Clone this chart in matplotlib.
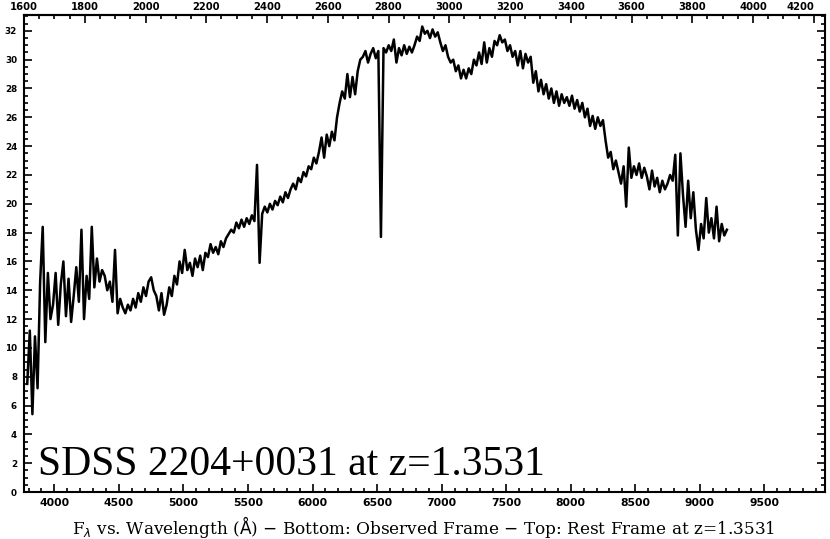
#!/usr/bin/env python3
"""SDSS 2204+0031 spectrum, observed frame bottom / rest frame top."""

import matplotlib
matplotlib.use("Agg")
import matplotlib.pyplot as plt
import numpy as np
from matplotlib.ticker import MultipleLocator

z = 1.3531

# spectrum sampled every 20 A starting at 3790 A (observed frame)
wave_start = 3790
wave_step = 20
flux = [
    7.5, 11.2, 5.4, 10.8, 7.2, 14.6, 18.4, 10.4, 15.2, 12.0,
    13.0, 15.2, 11.6, 14.4, 16.0, 12.2, 14.8, 11.8, 13.6, 15.6,
    13.2, 18.2, 12.0, 15.0, 13.4, 18.4, 14.2, 16.2, 14.6, 15.4,
    15.0, 14.0, 14.6, 13.2, 16.8, 12.4, 13.4, 12.8, 12.4, 13.0,
    12.6, 13.4, 12.8, 13.8, 13.2, 14.2, 13.6, 14.6, 14.9, 14.0,
    13.6, 12.6, 13.8, 12.3, 13.0, 14.2, 13.6, 15.0, 14.4, 16.0,
    15.2, 16.8, 15.4, 15.9, 15.0, 16.2, 15.6, 16.4, 15.4, 16.6,
    16.3, 17.2, 16.6, 17.0, 16.5, 17.4, 17.0, 17.6, 17.9, 18.2,
    18.0, 18.7, 18.3, 18.9, 18.4, 19.0, 18.6, 19.2, 18.8, 22.7,
    15.9, 19.3, 19.8, 19.4, 20.0, 19.6, 20.2, 19.9, 20.5, 20.1,
    20.8, 20.4, 21.0, 21.4, 21.0, 21.8, 21.5, 22.2, 21.9, 22.6,
    22.4, 23.2, 22.8, 23.6, 24.6, 23.2, 24.8, 24.0, 25.0, 24.4,
    26.0, 27.0, 27.8, 27.3, 29.0, 27.4, 28.8, 27.6, 29.2, 30.0,
    30.2, 30.6, 29.8, 30.4, 30.8, 30.1, 30.6, 17.7, 30.8, 30.5,
    31.0, 30.6, 31.4, 29.8, 30.8, 30.3, 31.0, 30.4, 30.9, 30.5,
    31.0, 31.6, 31.3, 32.3, 31.8, 32.0, 31.5, 32.1, 31.6, 31.9,
    31.2, 30.6, 31.0, 30.2, 29.8, 30.0, 29.2, 29.6, 28.7, 29.3,
    28.7, 29.4, 29.0, 30.0, 29.6, 30.5, 29.7, 31.2, 29.8, 30.8,
    30.2, 31.3, 31.0, 31.7, 31.2, 31.4, 30.6, 31.0, 30.2, 30.6,
    29.6, 30.6, 29.4, 30.4, 29.8, 30.2, 28.4, 29.2, 27.8, 28.6,
    27.6, 28.3, 27.3, 28.0, 27.0, 27.8, 26.8, 27.6, 27.0, 27.4,
    26.8, 27.5, 26.6, 27.2, 26.4, 27.0, 26.0, 26.6, 25.4, 26.1,
    25.2, 26.0, 25.4, 25.8, 24.4, 23.2, 23.6, 22.4, 23.0, 22.2,
    21.4, 22.6, 19.8, 23.9, 21.8, 22.6, 22.0, 22.8, 21.8, 22.5,
    21.9, 21.0, 22.3, 21.2, 21.8, 20.8, 21.6, 21.0, 21.4, 22.0,
    21.6, 23.4, 17.8, 23.5, 20.6, 18.4, 21.6, 19.0, 20.8, 18.2,
    16.8, 18.6, 17.6, 20.4, 18.0, 19.0, 17.6, 19.8, 17.4, 18.6, 17.8, 18.2,
]
wave = wave_start + wave_step * np.arange(len(flux))

bottom_ticks = list(range(4000, 10000, 500))
top_ticks = list(range(1600, 4400, 200))
x_range = (1600 * (1 + z), 9970)
y_range = (0, 33.1)
name = "SDSS 2204+0031 at z=1.3531"
xlabel = (r"F$_\lambda$ vs. Wavelength ($\mathrm{\AA}$) $-$ Bottom: Observed Frame"
          r" $-$ Top: Rest Frame at z=1.3531")

fig = plt.figure(figsize=(8.3, 5.39), dpi=100)
ax = fig.add_axes([24 / 830, 1 - 492 / 539, 801 / 830, 477 / 539])

ax.plot(wave, flux, color="black", linewidth=1.8)
ax.set_xlim(*x_range)
ax.set_ylim(*y_range)

ax.set_xticks(bottom_ticks)
ax.xaxis.set_minor_locator(MultipleLocator(100))
ax.yaxis.set_major_locator(MultipleLocator(2))
ax.yaxis.set_minor_locator(MultipleLocator(0.5))
ax.tick_params(which="both", direction="in", top=False, right=True, width=1.2)
ax.tick_params(which="major", length=6)
ax.tick_params(which="minor", length=3)
ax.tick_params(axis="x", labelsize=7.8, pad=4)
ax.tick_params(axis="y", labelsize=6.3, pad=5)
for lab in ax.get_xticklabels() + ax.get_yticklabels():
    lab.set_fontweight("bold")

top = ax.secondary_xaxis("top", functions=(lambda w: w / (1 + z), lambda w: w * (1 + z)))
top.set_xticks(top_ticks)
top.xaxis.set_minor_locator(MultipleLocator(50))
top.tick_params(which="both", direction="in", width=1.2, labelsize=7.2, pad=2.5)
top.tick_params(which="major", length=6)
top.tick_params(which="minor", length=3)
top_labels = top.get_xticklabels()
for lab in top_labels:
    lab.set_fontweight("bold")
# keep the edge labels inside the picture
top_labels[0].set_horizontalalignment("center")
top_labels[-1].set_horizontalalignment("right")

for sp in ax.spines.values():
    sp.set_linewidth(1.5)
top.spines["top"].set_linewidth(1.5)

ax.text(0.0175, 0.036, name, transform=ax.transAxes, ha="left", va="baseline",
        fontsize=30, family="Liberation Serif")

fig.text(424 / 830, 1 - 527 / 539, xlabel, ha="center", va="center", fontsize=12.2,
         family="DejaVu Serif")

fig.savefig("out.png", dpi=100)
